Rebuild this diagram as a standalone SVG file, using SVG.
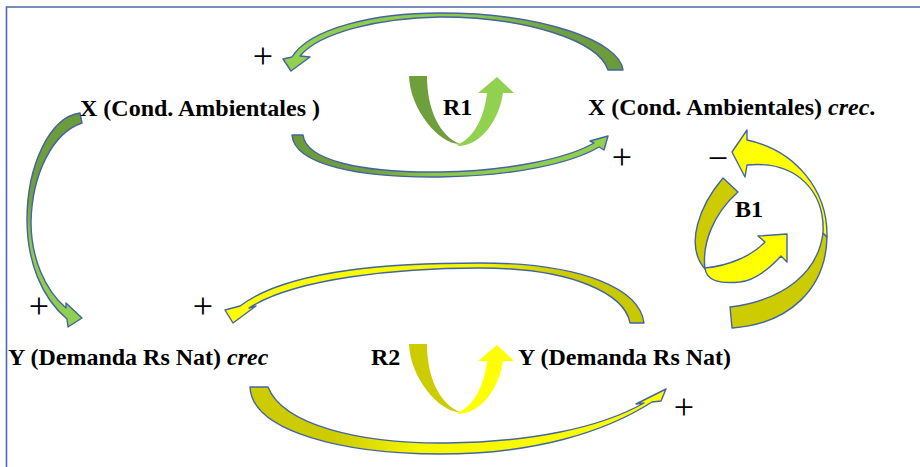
<svg xmlns="http://www.w3.org/2000/svg" width="920" height="467" viewBox="0 0 920 467">
  <style>
    .node { font-family: "Liberation Serif", "Times New Roman", serif; font-size: 24px; font-weight: bold; fill: #000; }
    .em { font-style: italic; }
    .sign { font-family: "Liberation Serif", "Times New Roman", serif; font-size: 36px; fill: #000; text-anchor: middle; }
    .arc { stroke: #44649f; stroke-width: 1.4; stroke-linejoin: round; }
    .frame { stroke: #4a6aa8; stroke-width: 1.6; fill: none; }
    .g-dark { fill: #6e9f3c; } .g-light { fill: #92d050; }
    .y-dark { fill: #cccc00; } .y-light { fill: #ffff00; }
  </style>
  <defs>
    <linearGradient id="gA1" gradientUnits="userSpaceOnUse" x1="290" y1="0" x2="623" y2="0">
      <stop offset="0" stop-color="#92d050"/>
      <stop offset="0.55" stop-color="#8cc84c"/>
      <stop offset="0.8" stop-color="#70a040"/>
      <stop offset="1" stop-color="#6a9a3a"/>
    </linearGradient>
    <linearGradient id="gA2" gradientUnits="userSpaceOnUse" x1="292" y1="0" x2="608" y2="0">
      <stop offset="0" stop-color="#6a9a3a"/>
      <stop offset="0.25" stop-color="#70a040"/>
      <stop offset="0.45" stop-color="#8cc84c"/>
      <stop offset="1" stop-color="#92d050"/>
    </linearGradient>
    <linearGradient id="gA3" gradientUnits="userSpaceOnUse" x1="0" y1="113" x2="0" y2="327">
      <stop offset="0" stop-color="#6a9a3a"/>
      <stop offset="0.4" stop-color="#70a040"/>
      <stop offset="0.6" stop-color="#8cc84c"/>
      <stop offset="1" stop-color="#92d050"/>
    </linearGradient>
    <linearGradient id="gA4" gradientUnits="userSpaceOnUse" x1="225" y1="0" x2="644" y2="0">
      <stop offset="0" stop-color="#ffff00"/>
      <stop offset="0.6" stop-color="#f5f500"/>
      <stop offset="0.8" stop-color="#cccc00"/>
      <stop offset="1" stop-color="#c8c800"/>
    </linearGradient>
    <linearGradient id="gA5" gradientUnits="userSpaceOnUse" x1="250" y1="0" x2="667" y2="0">
      <stop offset="0" stop-color="#cccc00"/>
      <stop offset="0.2" stop-color="#cccc00"/>
      <stop offset="0.4" stop-color="#f5f500"/>
      <stop offset="1" stop-color="#ffff00"/>
    </linearGradient>
  </defs>

  <!-- frame -->
  <path class="frame" d="M6.5,467 L6.5,7 L920,7"/>

  <!-- connectors -->
  <g id="connectors">
    <!-- X crec -> X (top) -->
    <path class="arc" fill="url(#gA1)" d="M623,70 C620,42 545,13 440,13 C375,13 310,28 292,57 L283,59 L291,71 L310,57 L300,56 C320,32 380,18 440,17 C525,17 598,40 608,70 Z"/>
    <!-- X -> X crec (bottom) -->
    <path class="arc" fill="url(#gA2)" d="M292,135 C294,165 360,178 440,177 C515,176 572,163 599,147 L604,150 L608,136 L590,141 L594,143 C568,158 510,171 440,172 C360,173 306,160 303,135 Z"/>
    <!-- X -> Y crec (left) -->
    <path class="arc" fill="url(#gA3)" d="M80,113 C50,117 27,165 27,220 C27,262 42,298 67,319 L68,327 L82,318 L66,303 L66,308 C45,290 31,258 31,222 C32,175 52,133 82,123 Z"/>
    <!-- Y -> Y crec (top) -->
    <path class="arc" fill="url(#gA4)" d="M644,323 C640,290 585,263 480,263 C400,263 290,268 240,306 L225,310 L233,323 L256,306 L249,308 C295,278 400,268 480,268 C575,268 625,295 630,323 Z"/>
    <!-- Y crec -> Y (bottom) -->
    <path class="arc" fill="url(#gA5)" d="M250,387 C252,432 345,454 440,454 C535,454 605,432 652,402 L661,401 L666,389 L636,404 L644,403 C600,428 530,442 447,443 C360,444 283,425 268,387 Z"/>
    <!-- Y -> X crec (right, negative) -->
    <path class="arc y-dark" d="M732,328 C790,324 826,288 827,237 L823,233 C818,272 785,300 730,307 Z"/>
    <path class="arc y-light" d="M827,237 C828,190 795,150 747,140 L747,130 L732,152 L745,177 L747,165 C800,160 825,195 823,233 Z"/>
  </g>

  <!-- loop markers -->
  <g id="loop-R1">
    <path class="g-dark" d="M409,76 L427,76 C427,110 440,136 460,144 C440,145 410,110 409,76 Z"/>
    <path class="g-light" d="M456,145 C472,140 484,120 487,93 L478,93 L497,77 L514,93 L503,93 C499,120 482,144 460,146 Z"/>
    <text class="node" x="443" y="115">R1</text>
  </g>
  <g id="loop-R2">
    <g transform="translate(0,268)">
      <path class="y-dark" d="M409,76 L427,76 C427,110 440,136 460,144 C440,145 410,110 409,76 Z"/>
      <path class="y-light" d="M456,145 C472,140 484,120 487,93 L478,93 L497,77 L514,93 L503,93 C499,120 482,144 460,146 Z"/>
    </g>
    <text class="node" x="371" y="365">R2</text>
  </g>
  <g id="loop-B1">
    <path class="arc y-dark" d="M723,178 C700,205 684,245 705,269 C702,245 712,215 738,192 Z"/>
    <path class="arc y-light" d="M705,268 C706,281 720,284 740,282 C756,280 770,268 781,256 L787,262 L787,234 L758,236 L765,242 C752,256 728,266 705,268 Z"/>
    <text class="node" x="735" y="217">B1</text>
  </g>

  <!-- nodes -->
  <g id="node-x">
    <text class="node" x="80" y="116">X (Cond. Ambientales )</text>
  </g>
  <g id="node-x-crec">
    <text class="node" x="588" y="115">X (Cond. Ambientales) <tspan class="em">crec</tspan>.</text>
  </g>
  <g id="node-y-crec">
    <text class="node" x="8" y="365">Y (Demanda Rs Nat) <tspan class="em">crec</tspan></text>
  </g>
  <g id="node-y">
    <text class="node" x="518" y="365">Y (Demanda Rs Nat)</text>
  </g>

  <!-- polarity signs -->
  <g id="signs">
    <text class="sign" x="263" y="68">+</text>
    <text class="sign" x="622" y="169">+</text>
    <text class="sign" x="718" y="170">−</text>
    <text class="sign" x="39" y="318">+</text>
    <text class="sign" x="203" y="318">+</text>
    <text class="sign" x="684" y="419">+</text>
  </g>
</svg>
